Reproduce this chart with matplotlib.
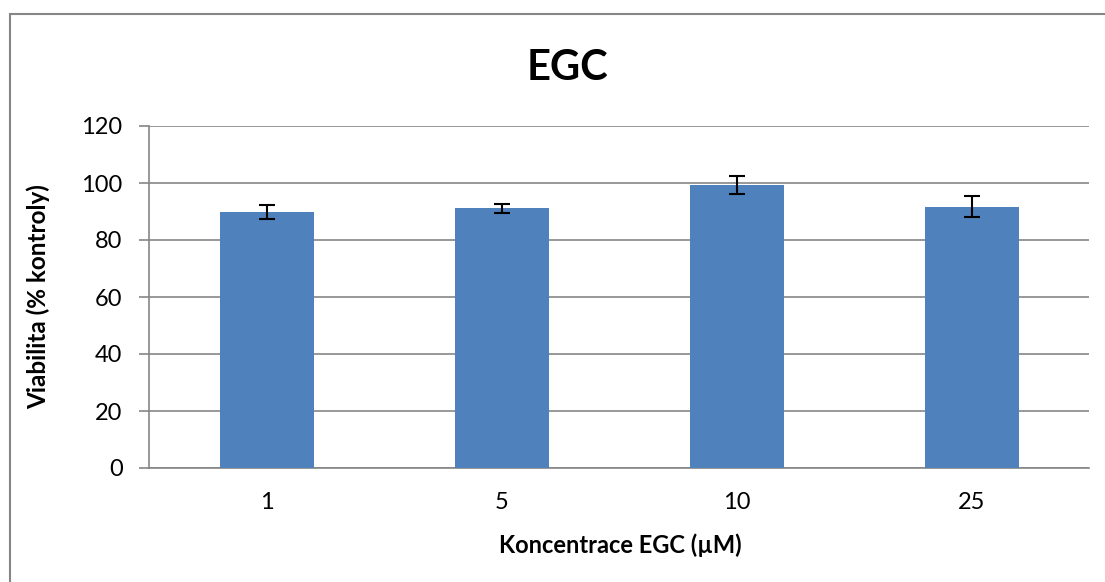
import matplotlib.pyplot as plt
from matplotlib.patches import Rectangle

plt.rcParams['font.family'] = ['Lato', 'DejaVu Sans']

# concentration labels and viability values (% of control)
concentrations = ['1', '5', '10', '25']
viability = [89.8, 91.1, 99.3, 91.6]
errors = [2.6, 1.5, 3.2, 3.7]

fig = plt.figure(figsize=(11.05, 5.82), dpi=100)
W, H = 1105, 582

# outer chart frame (only left and top edges are visible in the crop)
fig.patches.append(Rectangle((10 / W, -0.1), 1.2, (582 - 14) / H + 0.1,
                             transform=fig.transFigure, fill=False,
                             edgecolor='#868686', linewidth=1.5))

ax = fig.add_axes([149 / W, 1 - 468 / H, (1089 - 149) / W, (468 - 126) / H])

x = range(len(concentrations))
ax.bar(x, viability, width=0.4, color='#4F81BD', zorder=3)
ax.errorbar(x, viability, yerr=errors, fmt='none', ecolor='black',
            elinewidth=1.5, capsize=6, capthick=1.5, zorder=4)

ax.set_xlim(-0.5, len(concentrations) - 0.5)
ax.set_ylim(0, 120)
ax.set_yticks(range(0, 121, 20))
ax.set_xticks(list(x))
ax.set_xticklabels(concentrations)
ax.yaxis.grid(True, color='#868686', linewidth=1.2, zorder=0)

for s in ['top', 'right']:
    ax.spines[s].set_visible(False)
for s in ['left', 'bottom']:
    ax.spines[s].set_color('#868686')
    ax.spines[s].set_linewidth(1.2)

ax.tick_params(axis='x', length=0, labelsize=17, pad=17)
ax.tick_params(axis='y', length=7, width=1.2, color='#868686', labelsize=17, pad=12)

fig.text(620 / W, 1 - 545 / H, 'Koncentrace EGC (µM)', fontsize=17,
         fontweight='bold', ha='center', va='center')
fig.text(38 / W, 1 - 297 / H, 'Viabilita (% kontroly)', fontsize=17.5,
         fontweight='bold', ha='center', va='center', rotation=90)
fig.text(567 / W, 1 - 68 / H, 'EGC', fontsize=30, fontweight='bold',
         ha='center', va='center')

fig.savefig('out.png', dpi=100)
